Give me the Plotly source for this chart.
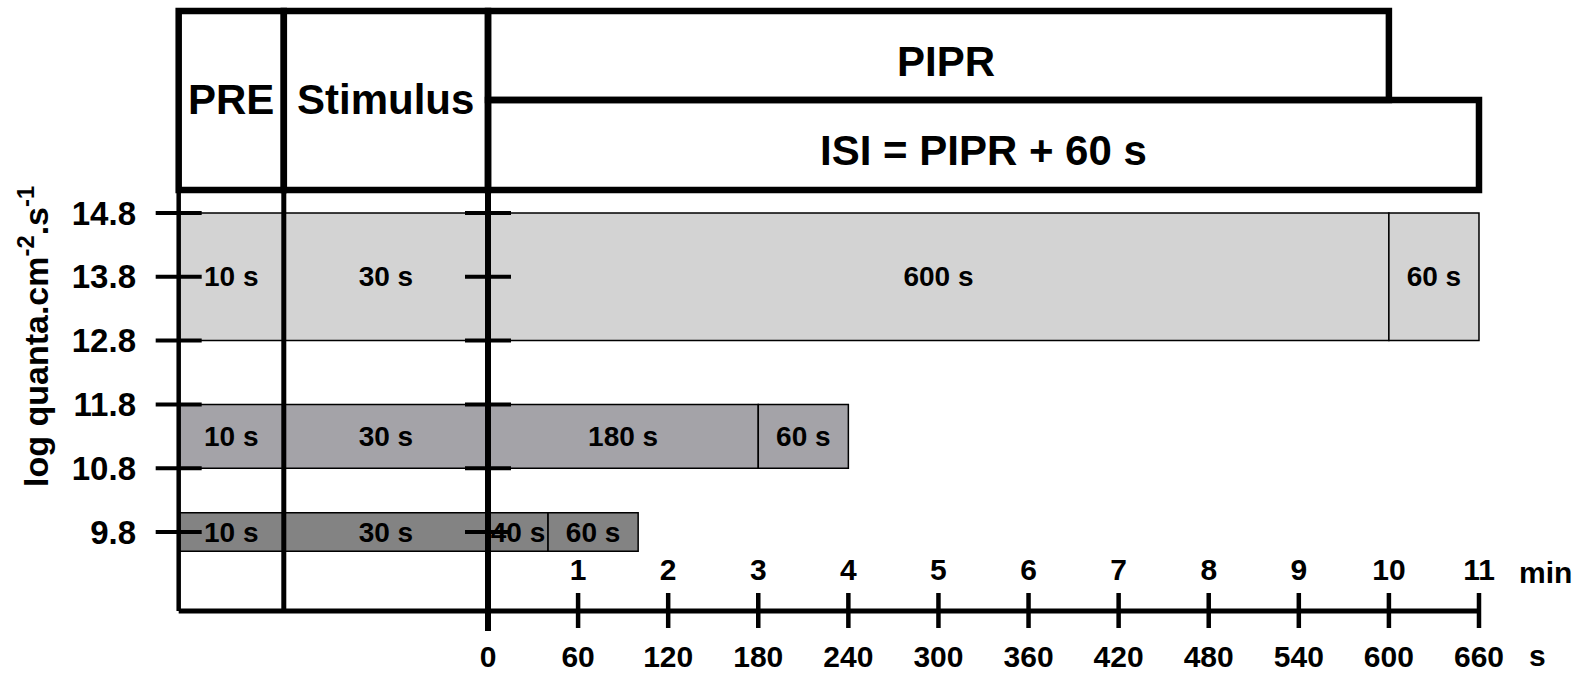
import plotly.graph_objects as go

# Protocol phases (seconds)
pre_s = 10
stimulus_s = 30
pipr_s = [600, 180, 40]          # post-illumination recording per row
isi_extra_s = [60, 60, 60]       # extra dark interval added to the PIPR

# Irradiance band of each protocol row (log quanta.cm-2.s-1)
band_low = [12.8, 10.8, 9.5]
band_high = [14.8, 11.8, 10.1]
row_colors = ["#d3d3d3", "#a4a3a8", "#838383"]

y_ticks = [9.8, 10.8, 11.8, 12.8, 13.8, 14.8]
sec_ticks = [0, 60, 120, 180, 240, 300, 360, 420, 480, 540, 600, 660]
min_ticks = [1, 2, 3, 4, 5, 6, 7, 8, 9, 10, 11]

# ---- page geometry -------------------------------------------------------
W, H = 1583, 677
X0_PX = 488.0          # page column of t = 0
PX_PER_S = 1.5015      # horizontal scale after light-off
Y_REF_VAL, Y_REF_PX = 14.8, 213.0
PX_PER_LOG = 63.8

# phases before light-off are drawn compressed on the time axis
STIM_UNITS = 136.0
PRE_UNITS = 70.0


def ax(t):
    """time (s) -> x-axis position"""
    if t >= 0:
        return t
    if t >= -stimulus_s:
        return t * STIM_UNITS / stimulus_s
    return -STIM_UNITS + (t + stimulus_s) * PRE_UNITS / pre_s


def xpx(px):
    return (px - X0_PX) / PX_PER_S


def ypx(px):
    return Y_REF_VAL - (px - Y_REF_PX) / PX_PER_LOG


x_range = [xpx(0), xpx(W)]
y_range = [ypx(H), ypx(0)]

FONT = "Liberation Sans, Arial, sans-serif"
t_start = -(pre_s + stimulus_s)

# ---- bars ----------------------------------------------------------------
fig = go.Figure()
for lo, hi, pipr, extra, col in zip(band_low, band_high, pipr_s, isi_extra_s, row_colors):
    segs = [(t_start, -stimulus_s, pre_s), (-stimulus_s, 0, stimulus_s),
            (0, pipr, pipr), (pipr, pipr + extra, extra)]
    fig.add_trace(go.Bar(
        orientation="h",
        base=[ax(a) for a, b, d in segs],
        x=[ax(b) - ax(a) for a, b, d in segs],
        y=[(lo + hi) / 2] * len(segs),
        width=[hi - lo] * len(segs),
        text=[f"{d} s" for a, b, d in segs],
        textposition="inside",
        insidetextanchor="middle",
        textangle=0,
        constraintext="none",
        insidetextfont=dict(family=FONT, size=28, color="black", weight="bold"),
        marker=dict(color=col, line=dict(color="black", width=1.5)),
        hoverinfo="skip",
        showlegend=False,
    ))

# carrier for the minute axis
fig.add_trace(go.Scatter(x=[], y=[], xaxis="x2", yaxis="y", showlegend=False, hoverinfo="skip"))

shapes = []
HEAD_TOP, HEAD_MID, HEAD_BOT = ypx(11), ypx(100), ypx(190)
AXIS_Y = ypx(611)
HW = 6.5


def line(x0, y0, x1, y1, w, color="black"):
    shapes.append(dict(type="line", xref="x", yref="y", x0=x0, y0=y0, x1=x1, y1=y1,
                       line=dict(color=color, width=w)))


def rect(x0, y0, x1, y1, w):
    shapes.append(dict(type="rect", xref="x", yref="y", x0=x0, y0=y0, x1=x1, y1=y1,
                       line=dict(color="black", width=w), fillcolor="rgba(0,0,0,0)"))


# header boxes
pipr_max = max(pipr_s)
isi_max = max(p + e for p, e in zip(pipr_s, isi_extra_s))
rect(ax(t_start), HEAD_BOT, ax(-stimulus_s), HEAD_TOP, HW)
rect(ax(-stimulus_s), HEAD_BOT, ax(0), HEAD_TOP, HW)
rect(ax(0), HEAD_MID, ax(pipr_max), HEAD_TOP, HW)
rect(ax(0), HEAD_BOT, ax(isi_max), HEAD_MID, HW)

# frame lines under the header
line(ax(t_start), HEAD_BOT, ax(t_start), AXIS_Y, 4.5)
line(ax(-stimulus_s), HEAD_BOT, ax(-stimulus_s), AXIS_Y, 5)
line(ax(0), HEAD_BOT, ax(0), ypx(631), 6)
line(ax(t_start), AXIS_Y, ax(isi_max), AXIS_Y, 5)

# time axis tick marks (cross the axis line)
for t in sec_ticks[1:]:
    line(ax(t), ypx(593), ax(t), ypx(628), 4.5)

# irradiance tick marks crossing the frame and the light-off line
half = 23 / PX_PER_S
for v in y_ticks:
    for xc in (ax(t_start), ax(0)):
        line(xc - half, v, xc + half, v, 4)

annotations = [
    dict(text="PRE", x=(ax(t_start) + ax(-stimulus_s)) / 2, y=ypx(99)),
    dict(text="Stimulus", x=(ax(-stimulus_s) + ax(0)) / 2, y=ypx(99)),
    dict(text="PIPR", x=ax(pipr_max) / 2 + 5, y=ypx(61)),
    dict(text="ISI = PIPR + 60 s", x=ax(isi_max) / 2, y=ypx(150)),
]
for a in annotations:
    a.update(xref="x", yref="y", showarrow=False, font=dict(family=FONT, size=42, color="black", weight="bold"))

annotations += [
    dict(text="min", x=xpx(1545), y=ypx(572), xref="x", yref="y", showarrow=False,
         font=dict(family=FONT, size=30, color="black", weight="bold")),
    dict(text="s", x=xpx(1537), y=ypx(655), xref="x", yref="y", showarrow=False,
         font=dict(family=FONT, size=30, color="black", weight="bold")),
    dict(text="log quanta.cm<sup>-2</sup>.s<sup>-1</sup>", x=xpx(33), y=ypx(337), xref="x", yref="y",
         textangle=-90, showarrow=False,
         font=dict(family=FONT, size=34, color="black", weight="bold")),
]

tickfont = dict(family=FONT, size=30, color="black", weight="bold")
fig.update_layout(
    width=W, height=H,
    template="none",
    margin=dict(l=0, r=0, t=0, b=0, pad=0),
    paper_bgcolor="white", plot_bgcolor="white",
    barmode="overlay",
    showlegend=False,
    shapes=shapes,
    annotations=annotations,
    xaxis=dict(range=x_range, domain=[0, 1], anchor="free", position=1 - 636 / H, side="bottom",
               showline=False, showgrid=False, zeroline=False, ticks="",
               tickvals=[ax(t) for t in sec_ticks], ticktext=[str(t) for t in sec_ticks],
               tickfont=tickfont, automargin=False, fixedrange=True),
    xaxis2=dict(overlaying="x", matches="x", anchor="free", position=1 - 586 / H, side="top",
                showline=False, showgrid=False, zeroline=False, ticks="",
                tickvals=[ax(60 * m) for m in min_ticks], ticktext=[str(m) for m in min_ticks],
                tickfont=tickfont, automargin=False),
    yaxis=dict(range=y_range, domain=[0, 1], anchor="free", position=136 / W, side="left",
               showline=False, showgrid=False, zeroline=False, ticks="",
               tickvals=y_ticks, ticktext=[f"{v:.1f}" for v in y_ticks],
               tickfont=dict(family=FONT, size=33, color="black", weight="bold"),
               automargin=False, fixedrange=True),
)

fig.write_html("out.html")
